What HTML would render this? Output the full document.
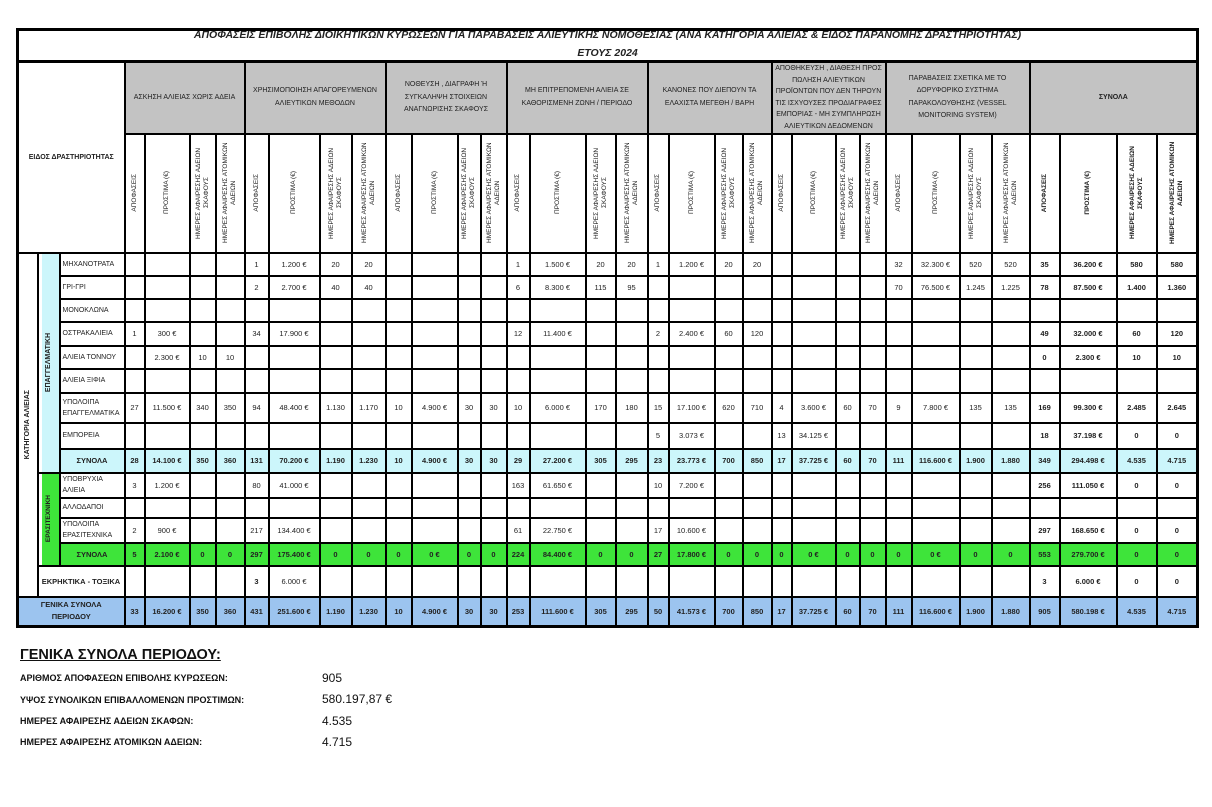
<!DOCTYPE html>
<html><head><meta charset="utf-8">
<style>
body{margin:0;background:#fff;width:1212px;height:807px;overflow:hidden;position:relative;font-family:"Liberation Sans","DejaVu Sans",sans-serif;}
table{position:absolute;left:16px;top:28px;width:1180px;border-collapse:collapse;table-layout:fixed;border:3px solid #000;}
td{border:2px solid #000;padding:0;text-align:center;font-size:7.5px;color:#222;overflow:hidden;white-space:nowrap;}
.t1{border:none;font-size:10.5px;font-weight:bold;font-style:italic;height:15px;line-height:8px;vertical-align:top;}
.t2{border:none;border-bottom:3px solid #000;font-size:10.5px;font-weight:bold;font-style:italic;height:14px;}
.g td.h{background:#c3c3c3;font-size:7px;line-height:12.5px;white-space:normal;}
.v{writing-mode:vertical-rl;transform:rotate(180deg);margin:auto;font-size:6.5px;line-height:8px;white-space:normal;text-align:center;max-height:112px;}
.vb{font-weight:bold;}
.l{text-align:left;padding-left:2px;font-size:7px;white-space:normal;line-height:11px;}
.b{font-weight:bold;}
.cy td{background:#ccf6fb;font-weight:bold;}
.gr td{background:#3ee43a;font-weight:bold;}
.bl td{background:#9cc4ef;font-weight:bold;}
.tot{font-weight:bold;}
.sum{position:absolute;left:20px;font-size:9px;font-weight:bold;color:#111;}
.val{position:absolute;left:322px;font-size:12px;color:#111;}
</style></head><body>
<table>
<colgroup>
<col style="width:20px"><col style="width:22px"><col style="width:65px">
<col style="width:20px"><col style="width:45px"><col style="width:26px"><col style="width:29px">
<col style="width:24px"><col style="width:51px"><col style="width:32px"><col style="width:34px">
<col style="width:26px"><col style="width:46px"><col style="width:23px"><col style="width:26px">
<col style="width:23px"><col style="width:56px"><col style="width:30px"><col style="width:32px">
<col style="width:21px"><col style="width:46px"><col style="width:28px"><col style="width:29px">
<col style="width:20px"><col style="width:44px"><col style="width:24px"><col style="width:26px">
<col style="width:26px"><col style="width:48px"><col style="width:32px"><col style="width:38px">
<col style="width:30px"><col style="width:57px"><col style="width:40px"><col style="width:41px">
</colgroup>
<tr><td colspan="35" class="t1">ΑΠΟΦΑΣΕΙΣ ΕΠΙΒΟΛΗΣ ΔΙΟΙΚΗΤΙΚΩΝ ΚΥΡΩΣΕΩΝ ΓΙΑ ΠΑΡΑΒΑΣΕΙΣ ΑΛΙΕΥΤΙΚΗΣ ΝΟΜΟΘΕΣΙΑΣ (ΑΝΑ ΚΑΤΗΓΟΡΙΑ ΑΛΙΕΙΑΣ &amp; ΕΙΔΟΣ ΠΑΡΑΝΟΜΗΣ ΔΡΑΣΤΗΡΙΟΤΗΤΑΣ)</td></tr>
<tr><td colspan="35" class="t2">ΕΤΟΥΣ 2024</td></tr>
<tr class="g" style="height:72px">
<td colspan="3" rowspan="2" class="b" style="font-size:7px">ΕΙΔΟΣ ΔΡΑΣΤΗΡΙΟΤΗΤΑΣ</td>
<td colspan="4" class="h">ΑΣΚΗΣΗ ΑΛΙΕΙΑΣ ΧΩΡΙΣ ΑΔΕΙΑ</td>
<td colspan="4" class="h">ΧΡΗΣΙΜΟΠΟΙΗΣΗ ΑΠΑΓΟΡΕΥΜΕΝΩΝ ΑΛΙΕΥΤΙΚΩΝ ΜΕΘΟΔΩΝ</td>
<td colspan="4" class="h">ΝΟΘΕΥΣΗ , ΔΙΑΓΡΑΦΗ Ή ΣΥΓΚΑΛΗΨΗ ΣΤΟΙΧΕΙΩΝ ΑΝΑΓΝΩΡΙΣΗΣ ΣΚΑΦΟΥΣ</td>
<td colspan="4" class="h">ΜΗ ΕΠΙΤΡΕΠΟΜΕΝΗ ΑΛΙΕΙΑ ΣΕ ΚΑΘΟΡΙΣΜΕΝΗ ΖΩΝΗ / ΠΕΡΙΟΔΟ</td>
<td colspan="4" class="h">ΚΑΝΟΝΕΣ ΠΟΥ ΔΙΕΠΟΥΝ ΤΑ ΕΛΑΧΙΣΤΑ ΜΕΓΕΘΗ / ΒΑΡΗ</td>
<td colspan="4" class="h" style="line-height:11.5px">ΑΠΟΘΗΚΕΥΣΗ , ΔΙΑΘΕΣΗ ΠΡΟΣ ΠΩΛΗΣΗ ΑΛΙΕΥΤΙΚΩΝ ΠΡΟΪΟΝΤΩΝ ΠΟΥ ΔΕΝ ΤΗΡΟΥΝ ΤΙΣ ΙΣΧΥΟΥΣΕΣ ΠΡΟΔΙΑΓΡΑΦΕΣ ΕΜΠΟΡΙΑΣ - ΜΗ ΣΥΜΠΛΗΡΩΣΗ ΑΛΙΕΥΤΙΚΩΝ ΔΕΔΟΜΕΝΩΝ</td>
<td colspan="4" class="h">ΠΑΡΑΒΑΣΕΙΣ ΣΧΕΤΙΚΑ ΜΕ ΤΟ ΔΟΡΥΦΟΡΙΚΟ ΣΥΣΤΗΜΑ ΠΑΡΑΚΟΛΟΥΘΗΣΗΣ (VESSEL MONITORING SYSTEM)</td>
<td colspan="4" class="h b">ΣΥΝΟΛΑ</td>
</tr>
<tr style="height:119px">
<td><div class="v">ΑΠΟΦΑΣΕΙΣ</div></td><td><div class="v">ΠΡΟΣΤΙΜΑ (€)</div></td><td><div class="v">ΗΜΕΡΕΣ ΑΦΑΙΡΕΣΗΣ ΑΔΕΙΩΝ ΣΚΑΦΟΥΣ</div></td><td><div class="v">ΗΜΕΡΕΣ ΑΦΑΙΡΕΣΗΣ ΑΤΟΜΙΚΩΝ ΑΔΕΙΩΝ</div></td>
<td><div class="v">ΑΠΟΦΑΣΕΙΣ</div></td><td><div class="v">ΠΡΟΣΤΙΜΑ (€)</div></td><td><div class="v">ΗΜΕΡΕΣ ΑΦΑΙΡΕΣΗΣ ΑΔΕΙΩΝ ΣΚΑΦΟΥΣ</div></td><td><div class="v">ΗΜΕΡΕΣ ΑΦΑΙΡΕΣΗΣ ΑΤΟΜΙΚΩΝ ΑΔΕΙΩΝ</div></td>
<td><div class="v">ΑΠΟΦΑΣΕΙΣ</div></td><td><div class="v">ΠΡΟΣΤΙΜΑ (€)</div></td><td><div class="v">ΗΜΕΡΕΣ ΑΦΑΙΡΕΣΗΣ ΑΔΕΙΩΝ ΣΚΑΦΟΥΣ</div></td><td><div class="v">ΗΜΕΡΕΣ ΑΦΑΙΡΕΣΗΣ ΑΤΟΜΙΚΩΝ ΑΔΕΙΩΝ</div></td>
<td><div class="v">ΑΠΟΦΑΣΕΙΣ</div></td><td><div class="v">ΠΡΟΣΤΙΜΑ (€)</div></td><td><div class="v">ΗΜΕΡΕΣ ΑΦΑΙΡΕΣΗΣ ΑΔΕΙΩΝ ΣΚΑΦΟΥΣ</div></td><td><div class="v">ΗΜΕΡΕΣ ΑΦΑΙΡΕΣΗΣ ΑΤΟΜΙΚΩΝ ΑΔΕΙΩΝ</div></td>
<td><div class="v">ΑΠΟΦΑΣΕΙΣ</div></td><td><div class="v">ΠΡΟΣΤΙΜΑ (€)</div></td><td><div class="v">ΗΜΕΡΕΣ ΑΦΑΙΡΕΣΗΣ ΑΔΕΙΩΝ ΣΚΑΦΟΥΣ</div></td><td><div class="v">ΗΜΕΡΕΣ ΑΦΑΙΡΕΣΗΣ ΑΤΟΜΙΚΩΝ ΑΔΕΙΩΝ</div></td>
<td><div class="v">ΑΠΟΦΑΣΕΙΣ</div></td><td><div class="v">ΠΡΟΣΤΙΜΑ (€)</div></td><td><div class="v">ΗΜΕΡΕΣ ΑΦΑΙΡΕΣΗΣ ΑΔΕΙΩΝ ΣΚΑΦΟΥΣ</div></td><td><div class="v">ΗΜΕΡΕΣ ΑΦΑΙΡΕΣΗΣ ΑΤΟΜΙΚΩΝ ΑΔΕΙΩΝ</div></td>
<td><div class="v">ΑΠΟΦΑΣΕΙΣ</div></td><td><div class="v">ΠΡΟΣΤΙΜΑ (€)</div></td><td><div class="v">ΗΜΕΡΕΣ ΑΦΑΙΡΕΣΗΣ ΑΔΕΙΩΝ ΣΚΑΦΟΥΣ</div></td><td><div class="v">ΗΜΕΡΕΣ ΑΦΑΙΡΕΣΗΣ ΑΤΟΜΙΚΩΝ ΑΔΕΙΩΝ</div></td>
<td><div class="v vb">ΑΠΟΦΑΣΕΙΣ</div></td><td><div class="v vb">ΠΡΟΣΤΙΜΑ (€)</div></td><td><div class="v vb">ΗΜΕΡΕΣ ΑΦΑΙΡΕΣΗΣ ΑΔΕΙΩΝ ΣΚΑΦΟΥΣ</div></td><td><div class="v vb">ΗΜΕΡΕΣ ΑΦΑΙΡΕΣΗΣ ΑΤΟΜΙΚΩΝ ΑΔΕΙΩΝ</div></td>
</tr>
<tr style="height:23px">
<td rowspan="14"><div class="v vb" style="font-size:7px">ΚΑΤΗΓΟΡΙΑ ΑΛΙΕΙΑΣ</div></td>
<td rowspan="9" style="background:linear-gradient(90deg,#fff 0 3px,#ccf6fb 3px)"><div class="v vb" style="font-size:7px">ΕΠΑΓΓΕΛΜΑΤΙΚΗ</div></td>
<td class="l">ΜΗΧΑΝΟΤΡΑΤΑ</td>
<td></td><td></td><td></td><td></td>
<td>1</td><td>1.200 €</td><td>20</td><td>20</td>
<td></td><td></td><td></td><td></td>
<td>1</td><td>1.500 €</td><td>20</td><td>20</td>
<td>1</td><td>1.200 €</td><td>20</td><td>20</td>
<td></td><td></td><td></td><td></td>
<td>32</td><td>32.300 €</td><td>520</td><td>520</td>
<td class="tot">35</td><td class="tot">36.200 €</td><td class="tot">580</td><td class="tot">580</td>
</tr>
<tr style="height:23px"><td class="l">ΓΡΙ-ΓΡΙ</td>
<td></td><td></td><td></td><td></td>
<td>2</td><td>2.700 €</td><td>40</td><td>40</td>
<td></td><td></td><td></td><td></td>
<td>6</td><td>8.300 €</td><td>115</td><td>95</td>
<td></td><td></td><td></td><td></td>
<td></td><td></td><td></td><td></td>
<td>70</td><td>76.500 €</td><td>1.245</td><td>1.225</td>
<td class="tot">78</td><td class="tot">87.500 €</td><td class="tot">1.400</td><td class="tot">1.360</td>
</tr>
<tr style="height:23px"><td class="l">ΜΟΝΟΚΛΩΝΑ</td>
<td></td><td></td><td></td><td></td><td></td><td></td><td></td><td></td><td></td><td></td><td></td><td></td><td></td><td></td><td></td><td></td><td></td><td></td><td></td><td></td><td></td><td></td><td></td><td></td><td></td><td></td><td></td><td></td><td></td><td></td><td></td><td></td>
</tr>
<tr style="height:24px"><td class="l">ΟΣΤΡΑΚΑΛΙΕΙΑ</td>
<td>1</td><td>300 €</td><td></td><td></td>
<td>34</td><td>17.900 €</td><td></td><td></td>
<td></td><td></td><td></td><td></td>
<td>12</td><td>11.400 €</td><td></td><td></td>
<td>2</td><td>2.400 €</td><td>60</td><td>120</td>
<td></td><td></td><td></td><td></td>
<td></td><td></td><td></td><td></td>
<td class="tot">49</td><td class="tot">32.000 €</td><td class="tot">60</td><td class="tot">120</td>
</tr>
<tr style="height:23px"><td class="l">ΑΛΙΕΙΑ ΤΟΝΝΟΥ</td>
<td></td><td>2.300 €</td><td>10</td><td>10</td>
<td></td><td></td><td></td><td></td><td></td><td></td><td></td><td></td><td></td><td></td><td></td><td></td><td></td><td></td><td></td><td></td><td></td><td></td><td></td><td></td><td></td><td></td><td></td><td></td>
<td class="tot">0</td><td class="tot">2.300 €</td><td class="tot">10</td><td class="tot">10</td>
</tr>
<tr style="height:24px"><td class="l">ΑΛΙΕΙΑ ΞΙΦΙΑ</td>
<td></td><td></td><td></td><td></td><td></td><td></td><td></td><td></td><td></td><td></td><td></td><td></td><td></td><td></td><td></td><td></td><td></td><td></td><td></td><td></td><td></td><td></td><td></td><td></td><td></td><td></td><td></td><td></td><td></td><td></td><td></td><td></td>
</tr>
<tr style="height:30px"><td class="l">ΥΠΟΛΟΙΠΑ ΕΠΑΓΓΕΛΜΑΤΙΚΑ</td>
<td>27</td><td>11.500 €</td><td>340</td><td>350</td>
<td>94</td><td>48.400 €</td><td>1.130</td><td>1.170</td>
<td>10</td><td>4.900 €</td><td>30</td><td>30</td>
<td>10</td><td>6.000 €</td><td>170</td><td>180</td>
<td>15</td><td>17.100 €</td><td>620</td><td>710</td>
<td>4</td><td>3.600 €</td><td>60</td><td>70</td>
<td>9</td><td>7.800 €</td><td>135</td><td>135</td>
<td class="tot">169</td><td class="tot">99.300 €</td><td class="tot">2.485</td><td class="tot">2.645</td>
</tr>
<tr style="height:26px"><td class="l">ΕΜΠΟΡΕΙΑ</td>
<td></td><td></td><td></td><td></td><td></td><td></td><td></td><td></td><td></td><td></td><td></td><td></td><td></td><td></td><td></td><td></td>
<td>5</td><td>3.073 €</td><td></td><td></td>
<td>13</td><td>34.125 €</td><td></td><td></td>
<td></td><td></td><td></td><td></td>
<td class="tot">18</td><td class="tot">37.198 €</td><td class="tot">0</td><td class="tot">0</td>
</tr>
<tr class="cy" style="height:24px"><td>ΣΥΝΟΛΑ</td>
<td>28</td><td>14.100 €</td><td>350</td><td>360</td>
<td>131</td><td>70.200 €</td><td>1.190</td><td>1.230</td>
<td>10</td><td>4.900 €</td><td>30</td><td>30</td>
<td>29</td><td>27.200 €</td><td>305</td><td>295</td>
<td>23</td><td>23.773 €</td><td>700</td><td>850</td>
<td>17</td><td>37.725 €</td><td>60</td><td>70</td>
<td>111</td><td>116.600 €</td><td>1.900</td><td>1.880</td>
<td>349</td><td>294.498 €</td><td>4.535</td><td>4.715</td>
</tr>
<tr style="height:25px">
<td rowspan="4" style="background:linear-gradient(90deg,#fff 0 3px,#3ee43a 3px)"><div class="v vb" style="font-size:6.5px">ΕΡΑΣΙΤΕΧΝΙΚΗ</div></td>
<td class="l">ΥΠΟΒΡΥΧΙΑ ΑΛΙΕΙΑ</td>
<td>3</td><td>1.200 €</td><td></td><td></td>
<td>80</td><td>41.000 €</td><td></td><td></td>
<td></td><td></td><td></td><td></td>
<td>163</td><td>61.650 €</td><td></td><td></td>
<td>10</td><td>7.200 €</td><td></td><td></td>
<td></td><td></td><td></td><td></td>
<td></td><td></td><td></td><td></td>
<td class="tot">256</td><td class="tot">111.050 €</td><td class="tot">0</td><td class="tot">0</td>
</tr>
<tr style="height:20px"><td class="l">ΑΛΛΟΔΑΠΟΙ</td>
<td></td><td></td><td></td><td></td><td></td><td></td><td></td><td></td><td></td><td></td><td></td><td></td><td></td><td></td><td></td><td></td><td></td><td></td><td></td><td></td><td></td><td></td><td></td><td></td><td></td><td></td><td></td><td></td><td></td><td></td><td></td><td></td>
</tr>
<tr style="height:25px"><td class="l">ΥΠΟΛΟΙΠΑ ΕΡΑΣΙΤΕΧΝΙΚΑ</td>
<td>2</td><td>900 €</td><td></td><td></td>
<td>217</td><td>134.400 €</td><td></td><td></td>
<td></td><td></td><td></td><td></td>
<td>61</td><td>22.750 €</td><td></td><td></td>
<td>17</td><td>10.600 €</td><td></td><td></td>
<td></td><td></td><td></td><td></td>
<td></td><td></td><td></td><td></td>
<td class="tot">297</td><td class="tot">168.650 €</td><td class="tot">0</td><td class="tot">0</td>
</tr>
<tr class="gr" style="height:23px"><td>ΣΥΝΟΛΑ</td>
<td>5</td><td>2.100 €</td><td>0</td><td>0</td>
<td>297</td><td>175.400 €</td><td>0</td><td>0</td>
<td>0</td><td>0 €</td><td>0</td><td>0</td>
<td>224</td><td>84.400 €</td><td>0</td><td>0</td>
<td>27</td><td>17.800 €</td><td>0</td><td>0</td>
<td>0</td><td>0 €</td><td>0</td><td>0</td>
<td>0</td><td>0 €</td><td>0</td><td>0</td>
<td>553</td><td>279.700 €</td><td>0</td><td>0</td>
</tr>
<tr style="height:31px"><td colspan="2" class="b">ΕΚΡΗΚΤΙΚΑ - ΤΟΞΙΚΑ</td>
<td></td><td></td><td></td><td></td>
<td class="b">3</td><td>6.000 €</td><td></td><td></td>
<td></td><td></td><td></td><td></td><td></td><td></td><td></td><td></td><td></td><td></td><td></td><td></td><td></td><td></td><td></td><td></td><td></td><td></td><td></td><td></td>
<td class="tot">3</td><td class="tot">6.000 €</td><td class="tot">0</td><td class="tot">0</td>
</tr>
<tr class="bl" style="height:30px"><td colspan="3" style="line-height:12px">ΓΕΝΙΚΑ ΣΥΝΟΛΑ<br>ΠΕΡΙΟΔΟΥ</td>
<td>33</td><td>16.200 €</td><td>350</td><td>360</td>
<td>431</td><td>251.600 €</td><td>1.190</td><td>1.230</td>
<td>10</td><td>4.900 €</td><td>30</td><td>30</td>
<td>253</td><td>111.600 €</td><td>305</td><td>295</td>
<td>50</td><td>41.573 €</td><td>700</td><td>850</td>
<td>17</td><td>37.725 €</td><td>60</td><td>70</td>
<td>111</td><td>116.600 €</td><td>1.900</td><td>1.880</td>
<td>905</td><td>580.198 €</td><td>4.535</td><td>4.715</td>
</tr>
</table>
<div style="position:absolute;left:20px;top:647px;font-size:14.5px;font-weight:bold;text-decoration:underline;color:#111">ΓΕΝΙΚΑ ΣΥΝΟΛΑ ΠΕΡΙΟΔΟΥ:</div>
<div class="sum" style="top:673px">ΑΡΙΘΜΟΣ ΑΠΟΦΑΣΕΩΝ ΕΠΙΒΟΛΗΣ ΚΥΡΩΣΕΩΝ:</div><div class="val" style="top:671px">905</div>
<div class="sum" style="top:695px">ΥΨΟΣ ΣΥΝΟΛΙΚΩΝ ΕΠΙΒΑΛΛΟΜΕΝΩΝ ΠΡΟΣΤΙΜΩΝ:</div><div class="val" style="top:692px">580.197,87 €</div>
<div class="sum" style="top:716px">ΗΜΕΡΕΣ ΑΦΑΙΡΕΣΗΣ ΑΔΕΙΩΝ ΣΚΑΦΩΝ:</div><div class="val" style="top:714px">4.535</div>
<div class="sum" style="top:737px">ΗΜΕΡΕΣ ΑΦΑΙΡΕΣΗΣ ΑΤΟΜΙΚΩΝ ΑΔΕΙΩΝ:</div><div class="val" style="top:735px">4.715</div>
</body></html>
